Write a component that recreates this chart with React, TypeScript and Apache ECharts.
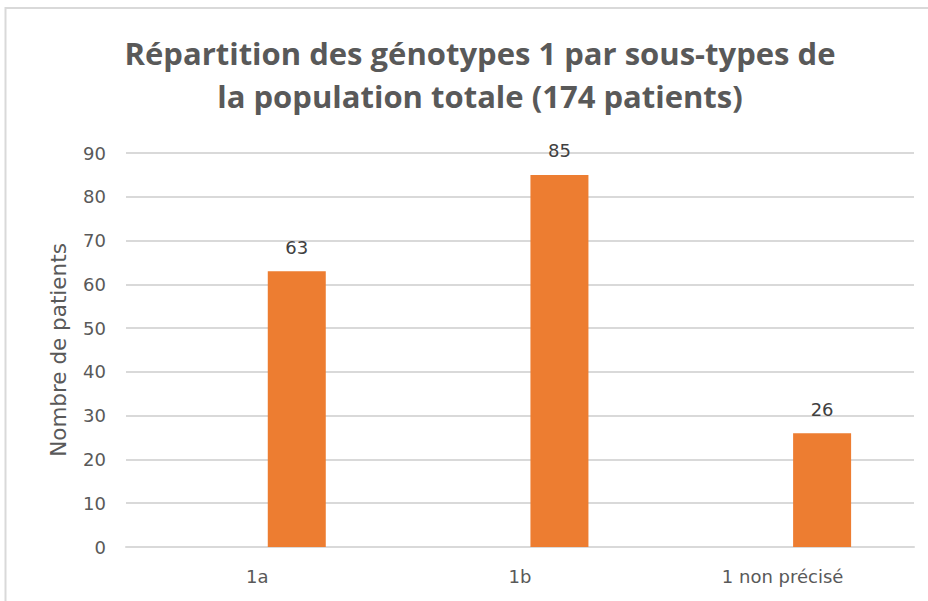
import React, { useEffect, useRef } from "react";
import * as echarts from "echarts";

const categories = ["1a", "1b", "1 non précisé"];
const emptyValues: (number | null)[] = [null, null, null];
const patientValues = [63, 85, 26];
const yTicks = { min: 0, max: 90, interval: 10 };

export default function App() {
  const ref = useRef<HTMLDivElement>(null);
  useEffect(() => {
    const chart = echarts.init(ref.current!, null, { renderer: "svg" });
    const font = "'DejaVu Sans', sans-serif";
    chart.setOption({
      animation: false,
      backgroundColor: "#ffffff",
      title: {
        text: "Répartition des génotypes 1 par sous-types de\nla population totale (174 patients)",
        left: 475,
        textAlign: "center",
        top: 26,
        textStyle: {
          fontFamily: "'Open Sans', sans-serif",
          fontWeight: "bold",
          fontSize: 31,
          lineHeight: 43,
          color: "#595959",
        },
      },
      graphic: [
        {
          type: "rect",
          shape: { x: 5.5, y: 8, width: 1000, height: 1000 },
          style: { fill: "none", stroke: "#d9d9d9", lineWidth: 2 },
          silent: true,
        },
      ],
      grid: { left: 126, right: 14, top: 153, bottom: 54 },
      xAxis: {
        type: "category",
        data: categories,
        axisLine: { lineStyle: { color: "#d9d9d9", width: 2 } },
        axisTick: { show: false },
        axisLabel: { color: "#595959", fontSize: 18, fontFamily: font, margin: 20 },
      },
      yAxis: {
        type: "value",
        min: yTicks.min,
        max: yTicks.max,
        interval: yTicks.interval,
        name: "Nombre de patients",
        nameLocation: "middle",
        nameGap: 57,
        nameTextStyle: { color: "#595959", fontSize: 21.5, fontFamily: font },
        axisLine: { show: false },
        axisTick: { show: false },
        axisLabel: { color: "#595959", fontSize: 18, fontFamily: font, margin: 20 },
        splitLine: { lineStyle: { color: "#d9d9d9", width: 2 } },
      },
      series: [
        {
          type: "bar",
          data: emptyValues,
          barWidth: 58,
          barGap: "36%",
          itemStyle: { color: "#4472C4" },
        },
        {
          type: "bar",
          data: patientValues,
          barWidth: 58,
          barGap: "36%",
          itemStyle: { color: "#ED7D31" },
          label: {
            show: true,
            position: "top",
            distance: 15,
            color: "#404040",
            fontSize: 18,
            fontFamily: font,
          },
        },
      ],
    });
    return () => chart.dispose();
  }, []);
  return (
    <div
      ref={ref}
      style={{ position: "absolute", left: 0, top: 0, width: 928, height: 601 }}
    />
  );
}
